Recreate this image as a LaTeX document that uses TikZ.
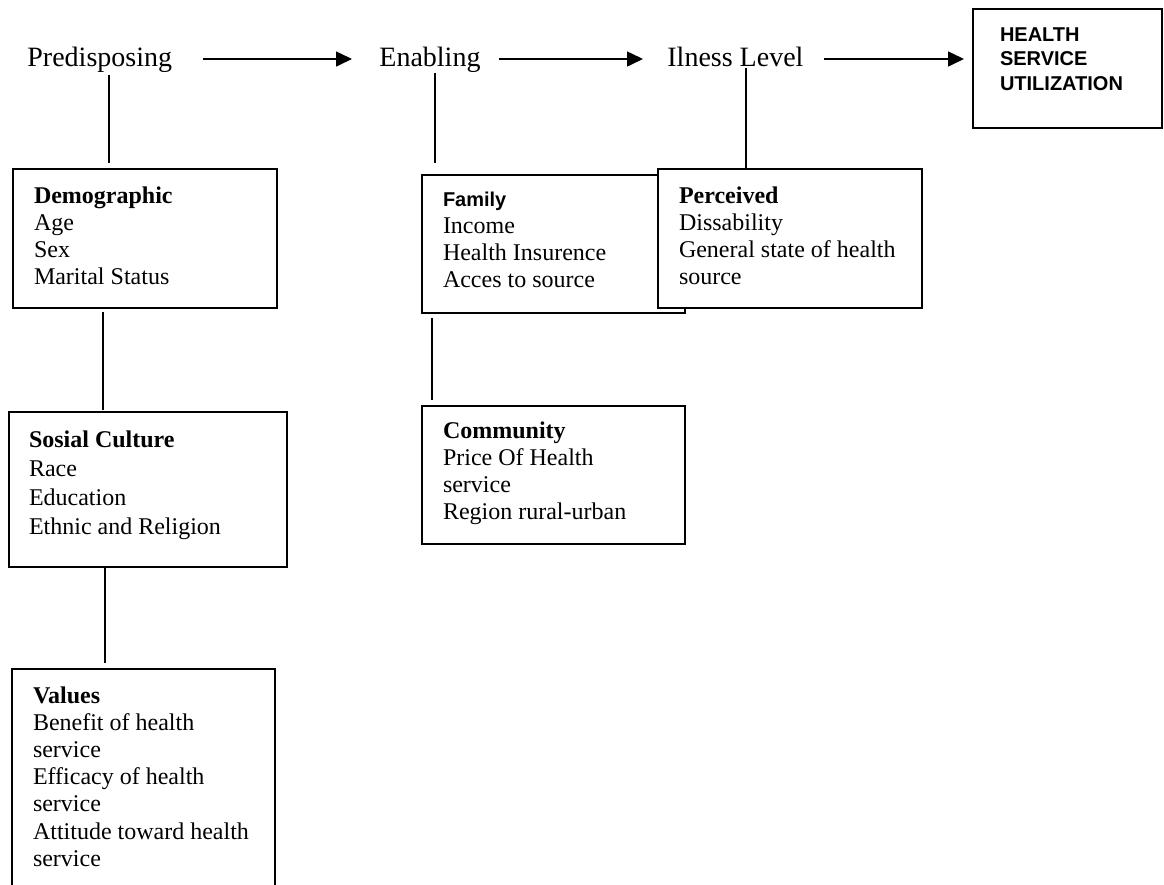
\documentclass[tikz,border=0pt]{standalone}
\usepackage{fontspec}
\setmainfont{Liberation Serif}
\newfontfamily\sansb{Liberation Sans}
\usetikzlibrary{arrows.meta}
\tikzset{
  lbl/.style={anchor=base west, inner sep=0pt, font=\fontsize{14}{16}\selectfont, text height=10pt, text depth=3pt},
  box/.style={draw, line width=1pt, fill=white, anchor=north west, inner ysep=0pt, outer sep=0pt, align=left,
              font=\fontsize{12}{13.6}\selectfont, execute at begin node={\spaceskip=0pt\xspaceskip=0pt\relax}},
  conn/.style={line width=1pt},
  arr/.style={line width=0.8pt, -{Triangle[length=8pt,width=7.5pt]}},
}
\begin{document}
\begin{tikzpicture}[x=0.5pt,y=-0.5pt]
\useasboundingbox (0,0) rectangle (1164,885);
\clip (0,0) rectangle (1164,885);
% top row
\node[lbl] (pred) at (27,66) {Predisposing};
\node[lbl] (enab) at (379,66) {Enabling};
\node[lbl] (ill) at (667,66) {Ilness Level};
\node[box, inner xsep=13.5pt, text width=67.5pt, text height=16pt, text depth=43.5pt,
      font=\sansb\bfseries\fontsize{10}{12.25}\selectfont] (hsu) at (973,9) {HEALTH\\SERVICE\\UTILIZATION};
% boxes
\node[box, inner xsep=10.5pt, text width=111pt, text height=17pt, text depth=52.5pt] (demo) at (13,169)
  {\textbf{Demographic}\\Age\\Sex\\Marital Status};
\node[box, inner xsep=10pt, text width=119pt, text height=17.5pt, text depth=60pt,
      font=\fontsize{12}{14.5}\selectfont] (soc) at (9,412)
  {\textbf{Sosial Culture}\\Race\\Education\\Ethnic and Religion};
\node[box, inner xsep=10.5pt, text width=110.5pt, text height=17pt, text depth=100pt] (val) at (12,669)
  {\textbf{Values}\\Benefit of health\\service\\Efficacy of health\\service\\Attitude toward health\\service};
\node[box, inner xsep=10.5pt, text width=110.5pt, text height=15.5pt, text depth=53.5pt] (fam) at (422,175)
  {{\sansb\bfseries\fontsize{10}{12}\selectfont Family}\\Income\\Health Insurence\\Acces to source};
\node[box, inner xsep=10.5pt, text width=111pt, text height=17pt, text depth=52.5pt] (perc) at (658,169)
  {\textbf{Perceived}\\Dissability\\General state of health\\source};
\node[box, inner xsep=10.5pt, text width=110.5pt, text height=16pt, text depth=53pt] (com) at (422,406)
  {\textbf{Community}\\Price Of Health\\service\\Region rural-urban};
% arrows
\draw[arr, shorten <=15.5pt, shorten >=13.5pt] (pred.east) -- (enab.west);
\draw[arr, shorten <=9pt, shorten >=12pt] (enab.east) -- (ill.west);
\draw[arr, shorten <=10pt, shorten >=4.5pt] (ill.east) -- (ill.east -| hsu.west);
% connectors
\draw[conn, shorten <=1.5pt, shorten >=3pt] ([xshift=-18pt]demo.north |- pred.south) -- ([xshift=-18pt]demo.north);
\draw[conn, shorten <=0.5pt, shorten >=6pt] ([xshift=-59.25pt]fam.north |- enab.south) -- ([xshift=-59.25pt]fam.north);
\draw[conn, shorten <=1pt] ([xshift=-22pt]perc.north |- ill.base) -- ([xshift=-22pt]perc.north);
\draw[conn, shorten <=2pt, shorten >=1pt] ([xshift=-21pt]demo.south) -- ([xshift=-21pt]demo.south |- soc.north);
\draw[conn, shorten >=3pt] ([xshift=-21.5pt]soc.south) -- ([xshift=-21.5pt]soc.south |- val.north);
\draw[conn, shorten <=2.5pt, shorten >=3pt] ([xshift=-60.75pt]fam.south) -- ([xshift=-60.75pt]fam.south |- com.north);
\end{tikzpicture}
\end{document}
